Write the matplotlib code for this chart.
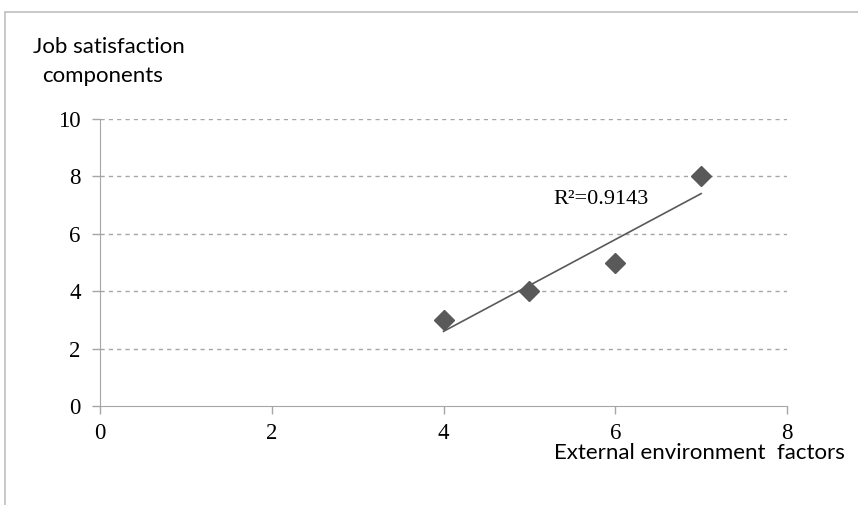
import numpy as np
import matplotlib.pyplot as plt
from matplotlib.patches import Rectangle

# data
external_factors = [4, 5, 6, 7]
job_satisfaction = [3, 4, 5, 8]
x_ticks = [0, 2, 4, 6, 8]
y_ticks = [0, 2, 4, 6, 8, 10]

x = np.array(external_factors, dtype=float)
y = np.array(job_satisfaction, dtype=float)
slope, intercept = np.polyfit(x, y, 1)
fit = slope * x + intercept
r2 = 1 - ((y - fit) ** 2).sum() / ((y - y.mean()) ** 2).sum()

fig = plt.figure(figsize=(8.58, 5.05), dpi=100)
ax = fig.add_axes([100 / 858, 1 - 406 / 505, 687 / 858, 287 / 505])

grey = "#a6a6a6"
serif = "Liberation Serif"
sans = "Lato"

ax.plot(x, y, "D", color="#595959", markersize=10.5, zorder=3)
ax.plot([x[0], x[-1]], [fit[0], fit[-1]], color="#595959", lw=1.2, zorder=2)
ax.text(5.28, 7.2, "R²=%.4f" % r2, fontsize=16, family=serif, va="center", ha="left")

ax.set_xlim(0, 8)
ax.set_ylim(0, 10)
ax.set_xticks(x_ticks)
ax.set_yticks(y_ticks)
for t in ax.get_xticklabels() + ax.get_yticklabels():
    t.set_family(serif)
    t.set_fontsize(16.5)
ax.tick_params(axis="both", direction="out", length=6, color=grey, width=1)
ax.tick_params(axis="y", pad=8)
ax.tick_params(axis="x", pad=6)

for g in y_ticks[1:]:
    ax.axhline(g, color=grey, lw=1, ls=(0, (3, 3)), zorder=1)

ax.spines["top"].set_visible(False)
ax.spines["right"].set_visible(False)
ax.spines["left"].set_color(grey)
ax.spines["bottom"].set_color(grey)

fig.text(33 / 858, 1 - 47 / 505, "Job satisfaction", fontsize=16,
         family=sans, ha="left", va="center")
fig.text(42 / 858, 1 - 76 / 505, "components", fontsize=16,
         family=sans, ha="left", va="center")
fig.text(845 / 858, 1 - 453 / 505, "External environment  factors", fontsize=16,
         family=sans, ha="right", va="center")

# outer frame, cut off at the right and bottom
fig.patches.append(Rectangle((5 / 858, -0.2), 1.2, 1.2 - 12 / 505,
                             transform=fig.transFigure, fill=False,
                             edgecolor="#bfbfbf", lw=1.2, clip_on=False))

fig.savefig("out.png", dpi=100)
